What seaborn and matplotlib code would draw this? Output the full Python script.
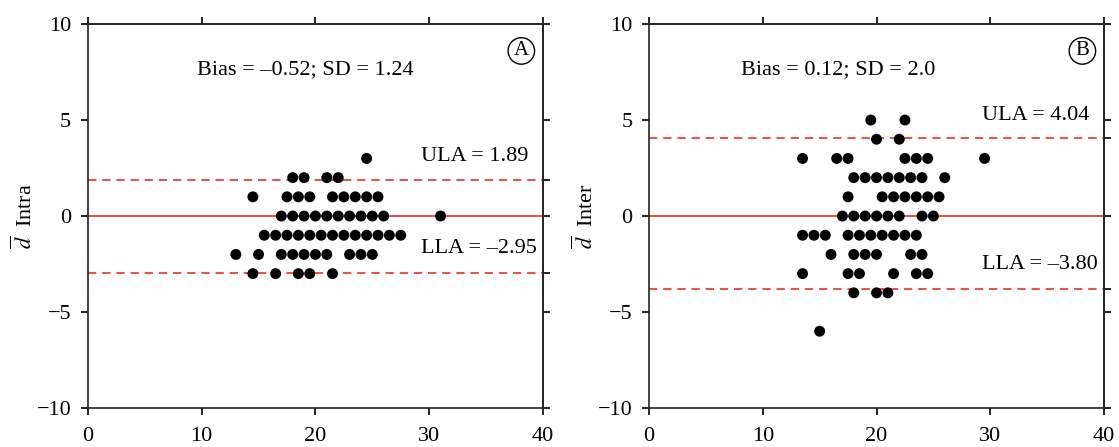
"""Bland-Altman style plots of intra- and inter-observer differences."""

import pandas as pd
import seaborn as sns
import matplotlib.pyplot as plt

# Panel A: intra-observer (mean, difference), read row by row
intra_mean = [24.5,
              18, 19, 21, 22,
              14.5, 17.5, 18.5, 19.5, 21.5, 22.5, 23.5, 24.5, 25.5,
              17, 18, 19, 20, 21, 22, 23, 24, 25, 26, 31,
              15.5, 16.5, 17.5, 18.5, 19.5, 20.5, 21.5, 22.5, 23.5, 24.5, 25.5, 26.5, 27.5,
              13, 15, 17, 18, 19, 20, 21, 23, 24, 25,
              14.5, 16.5, 18.5, 19.5, 21.5]
intra_diff = [3,
              2, 2, 2, 2,
              1, 1, 1, 1, 1, 1, 1, 1, 1,
              0, 0, 0, 0, 0, 0, 0, 0, 0, 0, 0,
              -1, -1, -1, -1, -1, -1, -1, -1, -1, -1, -1, -1, -1,
              -2, -2, -2, -2, -2, -2, -2, -2, -2, -2,
              -3, -3, -3, -3, -3]

# Panel B: inter-observer
inter_mean = [19.5, 22.5,
              20, 22,
              13.5, 16.5, 17.5, 22.5, 23.5, 24.5, 29.5,
              18, 19, 20, 21, 22, 23, 24, 26,
              17.5, 20.5, 21.5, 22.5, 23.5, 24.5, 25.5,
              17, 18, 19, 20, 21, 22, 24, 25,
              13.5, 14.5, 15.5, 17.5, 18.5, 19.5, 20.5, 21.5, 22.5, 23.5,
              16, 18, 19, 20, 23, 24,
              13.5, 17.5, 18.5, 21.5, 23.5, 24.5,
              18, 20, 21,
              15]
inter_diff = [5, 5,
              4, 4,
              3, 3, 3, 3, 3, 3, 3,
              2, 2, 2, 2, 2, 2, 2, 2,
              1, 1, 1, 1, 1, 1, 1,
              0, 0, 0, 0, 0, 0, 0, 0,
              -1, -1, -1, -1, -1, -1, -1, -1, -1, -1,
              -2, -2, -2, -2, -2, -2,
              -3, -3, -3, -3, -3, -3,
              -4, -4, -4,
              -6]

panel_tags = ['A', 'B']
panel_names = ['Intra', 'Inter']
bias_text = ['Bias = \u20130.52; SD = 1.24', 'Bias = 0.12; SD = 2.0']
ula = [1.89, 4.04]
lla = [-2.95, -3.80]
ula_text = ['ULA = 1.89', 'ULA = 4.04']
lla_text = ['LLA = \u20132.95', 'LLA = \u20133.80']
x_ticks = [0, 10, 20, 30, 40]
y_ticks = [-10, -5, 0, 5, 10]
y_ticklabels = ['\u221210', '\u22125', '0', '5', '10']


def draw_panel(ax, df, i, bias_x, ula_y, lla_y):
    sns.scatterplot(data=df, x='mean', y='diff', ax=ax, color='black',
                    s=62, edgecolor='none', zorder=3, legend=False)
    ax.axhline(0, color='#e8302e', lw=1.2, zorder=1)
    ax.axhline(ula[i], color='#e8302e', lw=1.2, ls=(0, (5, 3.5)), zorder=1)
    ax.axhline(lla[i], color='#e8302e', lw=1.2, ls=(0, (5, 3.5)), zorder=1)

    ax.set_xlim(0, 40)
    ax.set_ylim(-10, 10)
    ax.set_xticks(x_ticks)
    ax.set_yticks(y_ticks)
    ax.set_yticklabels(y_ticklabels)
    ax.set_xlabel('')
    ax.set_ylabel(r'$\overline{d}$  ' + panel_names[i], fontsize=16, labelpad=0)

    # unlabeled ticks on top and right, right side also marks the limits
    top = ax.secondary_xaxis('top')
    top.set_xticks(x_ticks)
    top.set_xticklabels([])
    right = ax.secondary_yaxis('right')
    right.set_yticks(sorted(y_ticks + [ula[i], lla[i]]))
    right.set_yticklabels([])
    for a in (ax, top, right):
        a.tick_params(direction='out', length=5, width=1.2, labelsize=16,
                      color='black', labelcolor='black')
        for spine in a.spines.values():
            spine.set_linewidth(1.2)
            spine.set_color('#222222')
    ax.tick_params(axis='x', pad=9)
    ax.tick_params(axis='y', pad=7)
    for spine in ax.spines.values():
        spine.set_visible(True)

    ax.text(bias_x, 7.6, bias_text[i], ha='center', va='center', fontsize=16)
    ax.text(29.3, ula_y, ula_text[i], ha='left', va='center', fontsize=16)
    ax.text(29.3, lla_y, lla_text[i], ha='left', va='center', fontsize=16)
    ax.text(38.1, 8.6, panel_tags[i], ha='center', va='center', fontsize=15,
            bbox=dict(boxstyle='circle,pad=0.18', fc='none', ec='black', lw=1.0))


def main():
    sns.set_style('ticks')
    plt.rcParams['font.family'] = ['Liberation Serif', 'DejaVu Serif']
    plt.rcParams['mathtext.fontset'] = 'stix'
    plt.rcParams['text.color'] = 'black'
    plt.rcParams['axes.labelcolor'] = 'black'

    fig = plt.figure(figsize=(11.19, 4.47), dpi=100)
    ax_a = fig.add_axes([0.0786, 0.0872, 0.4066, 0.859])
    ax_b = fig.add_axes([0.580, 0.0872, 0.4066, 0.859])

    df_a = pd.DataFrame({'mean': intra_mean, 'diff': intra_diff})
    df_b = pd.DataFrame({'mean': inter_mean, 'diff': inter_diff})

    draw_panel(ax_a, df_a, 0, 19.1, 3.1, -1.7)
    draw_panel(ax_b, df_b, 1, 16.6, 5.25, -2.55)

    fig.savefig('out.png', dpi=100, facecolor='white')
    plt.close(fig)


if __name__ == "__main__":
    main()
